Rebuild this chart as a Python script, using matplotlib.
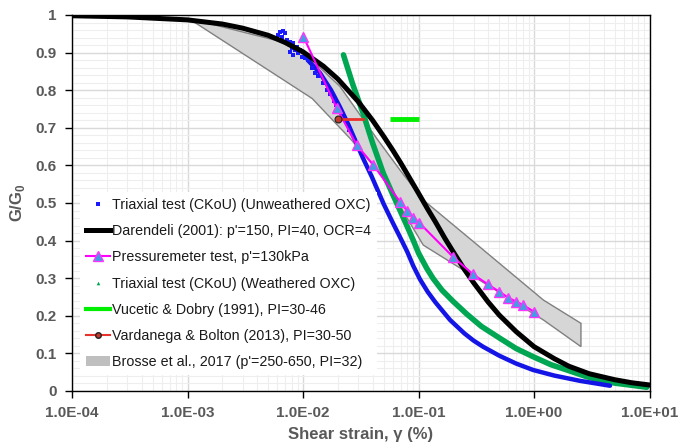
import matplotlib
matplotlib.use("Agg")
import matplotlib.pyplot as plt
from matplotlib.ticker import FixedLocator, NullFormatter, MultipleLocator
from matplotlib.lines import Line2D
from matplotlib.patches import Patch

plt.rcParams['font.family'] = ['Liberation Sans', 'DejaVu Sans']
plt.rcParams['mathtext.fontset'] = 'custom'
plt.rcParams['mathtext.rm'] = 'Liberation Sans'
plt.rcParams['mathtext.bf'] = 'Liberation Sans:bold'

# ---------------- data ----------------
# Triaxial (CKoU) unweathered OXC: scattered small-strain points
tri_u_scatter_x = [0.00611, 0.00632, 0.00675, 0.00699, 0.00654, 0.00722, 0.00772, 0.00746,
                   0.00824, 0.00882, 0.00798, 0.00853, 0.00942, 0.01006, 0.00911, 0.01077,
                   0.0104, 0.0111, 0.00772, 0.00824, 0.00974, 0.0120, 0.0128, 0.0135,
                   0.0150, 0.0160, 0.0172, 0.0185, 0.0195, 0.0230, 0.0250]
tri_u_scatter_y = [0.947, 0.956, 0.958, 0.951, 0.942, 0.934, 0.929, 0.925,
                   0.925, 0.916, 0.911, 0.907, 0.907, 0.902, 0.898, 0.894,
                   0.885, 0.880, 0.902, 0.894, 0.889, 0.858, 0.845, 0.838,
                   0.818, 0.800, 0.790, 0.772, 0.760, 0.722, 0.695]
# Triaxial (CKoU) unweathered OXC: dense part of the record
tri_u_curve_x = [0.0110, 0.0140, 0.0175, 0.0209, 0.0250, 0.0282, 0.0330, 0.0394, 0.0500,
                 0.0600, 0.0690, 0.0800, 0.0900, 0.103, 0.120, 0.140, 0.1875, 0.250, 0.300,
                 0.361, 0.500, 0.700, 0.980, 1.50, 2.50, 4.55]
tri_u_curve_y = [0.880, 0.846, 0.800, 0.755, 0.705, 0.668, 0.620, 0.570, 0.497,
                 0.447, 0.410, 0.370, 0.333, 0.297, 0.264, 0.236, 0.189, 0.153, 0.134,
                 0.118, 0.094, 0.073, 0.056, 0.041, 0.027, 0.014]

# Darendeli (2001): p'=150, PI=40, OCR=4
dar_x = [1e-4, 3e-4, 1e-3, 2e-3, 3e-3, 5e-3, 7e-3, 0.01, 0.015, 0.02, 0.03, 0.04, 0.05,
         0.06, 0.07, 0.085, 0.1, 0.12, 0.14, 0.17, 0.2, 0.25, 0.3, 0.4, 0.5, 0.7,
         1.0, 1.5, 2.0, 3.0, 5.0, 7.0, 10.0]
dar_y = [0.998, 0.995, 0.987, 0.976, 0.965, 0.946, 0.927, 0.902, 0.864, 0.830, 0.770,
         0.720, 0.677, 0.640, 0.607, 0.563, 0.526, 0.484, 0.450, 0.405, 0.370, 0.323,
         0.288, 0.237, 0.202, 0.158, 0.118, 0.086, 0.066, 0.046, 0.030, 0.022, 0.016]

# Pressuremeter test, p'=130kPa
pm_x = [0.0101, 0.0196, 0.0292, 0.0407, 0.0692, 0.080, 0.090, 0.101, 0.200, 0.298,
        0.397, 0.501, 0.600, 0.698, 0.798, 1.00]
pm_y = [0.942, 0.752, 0.654, 0.601, 0.503, 0.479, 0.461, 0.448, 0.356, 0.310,
        0.284, 0.264, 0.248, 0.238, 0.229, 0.211]

# Triaxial (CKoU) weathered OXC
tri_w_x = [0.0224, 0.0270, 0.0332, 0.0400, 0.0496, 0.0600, 0.0690, 0.0800, 0.0900,
           0.100, 0.118, 0.134, 0.160, 0.200, 0.261, 0.350, 0.508, 0.700, 0.987,
           1.40, 1.92, 2.86, 3.73, 5.00, 9.47]
tri_w_y = [0.894, 0.815, 0.738, 0.660, 0.579, 0.522, 0.481, 0.437, 0.401,
           0.367, 0.326, 0.299, 0.268, 0.238, 0.205, 0.172, 0.140, 0.113, 0.091,
           0.070, 0.056, 0.038, 0.029, 0.021, 0.010]

# Vucetic & Dobry (1991), PI=30-46
vd_x = [0.0566, 0.100]
vd_y = [0.723, 0.723]

# Vardanega & Bolton (2013), PI=30-50
vb_x = [0.0202, 0.0333]
vb_y = [0.723, 0.723]

# Brosse et al., 2017 band (upper edge, lower edge)
br_upper_x = [0.00102, 0.0063, 0.0115, 0.0209, 0.0434, 0.069, 0.110, 0.365, 1.205, 2.55]
br_upper_y = [0.991, 0.930, 0.885, 0.810, 0.672, 0.588, 0.508, 0.375, 0.242, 0.180]
br_lower_x = [0.00102, 0.0120, 0.0255, 0.0465, 0.110, 1.205, 2.55]
br_lower_y = [0.991, 0.778, 0.672, 0.579, 0.388, 0.189, 0.118]

x_ticks = [1e-4, 1e-3, 1e-2, 1e-1, 1e0, 1e1]
x_tick_labels = ['1.0E-04', '1.0E-03', '1.0E-02', '1.0E-01', '1.0E+00', '1.0E+01']
y_ticks = [0, 0.1, 0.2, 0.3, 0.4, 0.5, 0.6, 0.7, 0.8, 0.9, 1.0]
y_tick_labels = ['0', '0.1', '0.2', '0.3', '0.4', '0.5', '0.6', '0.7', '0.8', '0.9', '1']

# ---------------- figure ----------------
fig = plt.figure(figsize=(6.96, 4.45), dpi=100)
ax = fig.add_axes([72 / 696, 1 - 391 / 445, 577.5 / 696, 376 / 445])
ax.set_xscale('log')
ax.set_xlim(1e-4, 10)
ax.set_ylim(0, 1)

# grid
minor_x = [m * 10.0 ** e for e in range(-4, 1) for m in range(2, 10)]
ax.xaxis.set_minor_locator(FixedLocator(minor_x))
ax.xaxis.set_minor_formatter(NullFormatter())
ax.yaxis.set_minor_locator(MultipleLocator(0.02))
ax.grid(True, which='major', color='#d9d9d9', lw=1.0, zorder=0)
ax.grid(True, which='minor', color='#eeeeee', lw=0.8, zorder=0)
ax.set_axisbelow(True)

# Brosse band
poly_x = br_upper_x + br_lower_x[::-1]
poly_y = br_upper_y + br_lower_y[::-1]
ax.fill(poly_x, poly_y, facecolor='#d6d6d6', edgecolor='#808080', lw=1.0, zorder=2)

# weathered triaxial
ax.plot(tri_w_x, tri_w_y, color='#00a651', lw=4.0, solid_capstyle='round',
        solid_joinstyle='round', zorder=3)
# unweathered triaxial
ax.plot(tri_u_curve_x, tri_u_curve_y, color='#1414e6', lw=3.2, solid_capstyle='round',
        solid_joinstyle='round', zorder=4)
ax.plot(tri_u_scatter_x, tri_u_scatter_y, ls='none', marker='s', ms=2.6, color='#1a1aff',
        mew=0, zorder=4)
# Darendeli
ax.plot(dar_x, dar_y, color='black', lw=3.6, solid_joinstyle='round', zorder=5)
# pressuremeter
ax.plot(pm_x, pm_y, color='#ff00ff', lw=1.5, marker='^', ms=7, mfc='#3f9fe0',
        mec='#ff33ff', mew=1.0, zorder=6)
# Vucetic & Dobry
ax.plot(vd_x, vd_y, color='#00ee00', lw=3.5, solid_capstyle='butt', zorder=6)
# Vardanega & Bolton
ax.plot(vb_x, vb_y, color='#e8322d', lw=2.0, marker='o', ms=5, mfc='#c0392b',
        mec='#222222', mew=0.8, markevery=[0], zorder=7)

# legend proxies
handles = [
    Line2D([], [], ls='none', marker='s', ms=2.2, color='#1a1aff', mew=0),
    Line2D([], [], color='black', lw=3.6),
    Line2D([], [], color='#ff00ff', lw=1.5, marker='^', ms=7, mfc='#3f9fe0', mec='#ff33ff'),
    Line2D([], [], ls='none', marker='^', ms=2.6, color='#00a651', mew=0),
    Line2D([], [], color='#00ee00', lw=3.0),
    Line2D([], [], color='#e8322d', lw=1.5, marker='o', ms=4, mfc='#c0392b', mec='#222222'),
    Patch(facecolor='#bfbfbf', edgecolor='none'),
]
labels = ['Triaxial test (CKoU) (Unweathered OXC)',
          "Darendeli (2001): p'=150, PI=40, OCR=4",
          "Pressuremeter test, p'=130kPa",
          'Triaxial test (CKoU) (Weathered OXC)',
          'Vucetic & Dobry (1991), PI=30-46',
          'Vardanega & Bolton (2013), PI=30-50',
          "Brosse et al., 2017 (p'=250-650, PI=32)"]
leg = ax.legend(handles, labels, loc='lower left', bbox_to_anchor=(0.014, 0.043),
                borderaxespad=0, borderpad=0.4, frameon=True, fancybox=False,
                framealpha=1, facecolor='white', edgecolor='none',
                fontsize=10.3, labelspacing=0.85, handlelength=1.7, handletextpad=0.15,
                numpoints=1)
leg.set_zorder(8)
for t in leg.get_texts():
    t.set_color('#1a1a1a')

# ticks
ax.set_xticks(x_ticks)
ax.set_xticklabels(x_tick_labels)
ax.set_yticks(y_ticks)
ax.set_yticklabels(y_tick_labels)
ax.tick_params(axis='both', which='major', direction='out', length=5, width=1,
               colors='black', labelcolor='#595959', labelsize=11, pad=6)
ax.tick_params(axis='both', which='minor', length=0)
for lab in ax.get_xticklabels() + ax.get_yticklabels():
    lab.set_fontweight('bold')

for s in ax.spines.values():
    s.set_color('black')
    s.set_linewidth(1.0)
    s.set_zorder(9)

ax.set_xlabel('Shear strain, γ (%)', fontsize=12, fontweight='bold', color='#595959', labelpad=5)
ax.set_ylabel(r'G/G$_\mathbf{0}$', fontsize=12, fontweight='bold', color='#595959', labelpad=6)

fig.savefig('out.png', dpi=100)
